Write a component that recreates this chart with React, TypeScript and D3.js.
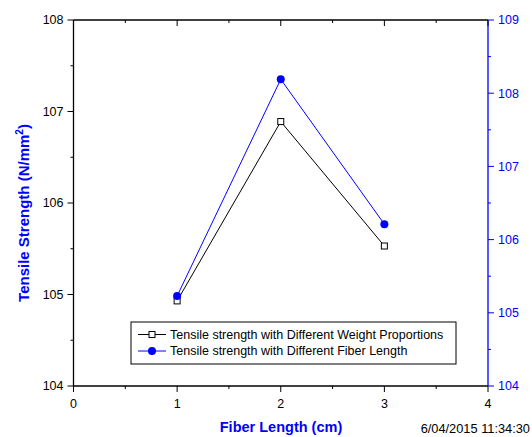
import React, { useEffect, useRef } from 'react';
import * as d3 from 'd3';

// fiber length (cm)
const fiberLength = [1, 2, 3];
// tensile strength with different weight proportions (left axis)
const weightSeries = [104.93, 106.89, 105.53];
// tensile strength with different fiber length (right axis)
const fiberSeries = [105.23, 108.19, 106.21];

const xTicks = [0, 1, 2, 3, 4];
const leftTicks = [104, 105, 106, 107, 108];
const rightTicks = [104, 105, 106, 107, 108, 109];

const legendLabels = [
  'Tensile strength with Different Weight Proportions',
  'Tensile strength with Different Fiber Length',
];

const App = () => {
  const chartRef = useRef<SVGSVGElement>(null);

  useEffect(() => {
    const svg = d3.select(chartRef.current);
    svg.selectAll('*').remove();

    const left = 73.5, right = 488, top = 20, bottom = 386;
    const font = 'Liberation Sans, Arial, sans-serif';
    const blue = '#0000ff';

    const x = d3.scaleLinear().domain([0, 4]).range([left, right]);
    const yL = d3.scaleLinear().domain([104, 108]).range([bottom, top]);
    const yR = d3.scaleLinear().domain([104, 109]).range([bottom, top]);

    const g = svg.append('g');

    // frame lines
    g.append('line').attr('x1', left).attr('x2', right).attr('y1', top).attr('y2', top)
      .attr('stroke', '#000').attr('stroke-width', 1.3);
    g.append('line').attr('x1', left).attr('x2', right).attr('y1', bottom).attr('y2', bottom)
      .attr('stroke', '#000').attr('stroke-width', 1.3);
    g.append('line').attr('x1', left).attr('x2', left).attr('y1', top).attr('y2', bottom)
      .attr('stroke', '#000').attr('stroke-width', 1.3);
    g.append('line').attr('x1', right).attr('x2', right).attr('y1', top).attr('y2', bottom)
      .attr('stroke', blue).attr('stroke-width', 1.3);

    // x ticks (bottom outward, top inward)
    const xMinor = d3.range(0.5, 4, 1);
    xTicks.forEach((t) => {
      g.append('line').attr('x1', x(t)).attr('x2', x(t)).attr('y1', bottom).attr('y2', bottom + 6)
        .attr('stroke', '#000');
      g.append('line').attr('x1', x(t)).attr('x2', x(t)).attr('y1', top).attr('y2', top + 6)
        .attr('stroke', '#000');
      g.append('text').attr('x', x(t)).attr('y', bottom + 22).attr('text-anchor', 'middle')
        .attr('font-family', font).attr('font-size', 12.5).text(t);
    });
    xMinor.forEach((t) => {
      g.append('line').attr('x1', x(t)).attr('x2', x(t)).attr('y1', bottom).attr('y2', bottom + 3)
        .attr('stroke', '#000');
      g.append('line').attr('x1', x(t)).attr('x2', x(t)).attr('y1', top).attr('y2', top + 3)
        .attr('stroke', '#000');
    });

    // left axis
    leftTicks.forEach((t) => {
      g.append('line').attr('x1', left - 6).attr('x2', left).attr('y1', yL(t)).attr('y2', yL(t))
        .attr('stroke', '#000');
      g.append('text').attr('x', left - 10).attr('y', yL(t)).attr('dy', '0.35em')
        .attr('text-anchor', 'end').attr('font-family', font).attr('font-size', 12.5).text(t);
    });
    d3.range(104.5, 108, 1).forEach((t) => {
      g.append('line').attr('x1', left - 3).attr('x2', left).attr('y1', yL(t)).attr('y2', yL(t))
        .attr('stroke', '#000');
    });

    // right axis
    rightTicks.forEach((t) => {
      g.append('line').attr('x1', right).attr('x2', right + 6).attr('y1', yR(t)).attr('y2', yR(t))
        .attr('stroke', blue);
      g.append('text').attr('x', right + 10).attr('y', yR(t)).attr('dy', '0.35em')
        .attr('text-anchor', 'start').attr('font-family', font).attr('font-size', 12.5)
        .attr('fill', blue).text(t);
    });
    d3.range(104.5, 109, 1).forEach((t) => {
      g.append('line').attr('x1', right).attr('x2', right + 3).attr('y1', yR(t)).attr('y2', yR(t))
        .attr('stroke', blue);
    });

    // axis titles
    g.append('text').attr('transform', 'translate(29,213) rotate(-90)')
      .attr('text-anchor', 'middle').attr('font-family', font).attr('font-size', 15)
      .attr('font-weight', 'bold').attr('fill', blue)
      .call((t) => {
        t.append('tspan').text('Tensile Strength (N/mm');
        t.append('tspan').attr('dy', -6).attr('font-size', 10).text('2');
        t.append('tspan').attr('dy', 6).text(')');
      });
    g.append('text').attr('x', 281).attr('y', 432).attr('text-anchor', 'middle')
      .attr('font-family', font).attr('font-size', 14.5).attr('font-weight', 'bold')
      .attr('fill', blue).text('Fiber Length (cm)');
    g.append('text').attr('x', 530).attr('y', 433).attr('text-anchor', 'end')
      .attr('font-family', font).attr('font-size', 12.8).text('6/04/2015 11:34:30');

    // series lines
    const lineL = d3.line<number>().x((d, i) => x(fiberLength[i])).y((d) => yL(d));
    const lineR = d3.line<number>().x((d, i) => x(fiberLength[i])).y((d) => yR(d));
    g.append('path').attr('d', lineL(weightSeries)).attr('fill', 'none').attr('stroke', '#000');
    g.append('path').attr('d', lineR(fiberSeries)).attr('fill', 'none').attr('stroke', blue);

    g.selectAll('.sq').data(weightSeries).enter().append('rect')
      .attr('x', (d, i) => x(fiberLength[i]) - 3).attr('y', (d) => yL(d) - 3)
      .attr('width', 6).attr('height', 6).attr('fill', '#fff').attr('stroke', '#000');
    g.selectAll('.dot').data(fiberSeries).enter().append('circle')
      .attr('cx', (d, i) => x(fiberLength[i])).attr('cy', (d) => yR(d)).attr('r', 4)
      .attr('fill', blue);

    // legend
    const lg = g.append('g');
    lg.append('rect').attr('x', 131).attr('y', 322).attr('width', 325).attr('height', 42)
      .attr('fill', '#fff').attr('stroke', '#000');
    legendLabels.forEach((label, i) => {
      const cy = 334.5 + i * 16.5;
      const col = i === 0 ? '#000' : blue;
      lg.append('line').attr('x1', 138).attr('x2', 166).attr('y1', cy).attr('y2', cy)
        .attr('stroke', col);
      if (i === 0) {
        lg.append('rect').attr('x', 149).attr('y', cy - 3).attr('width', 6).attr('height', 6)
          .attr('fill', '#fff').attr('stroke', '#000');
      } else {
        lg.append('circle').attr('cx', 152).attr('cy', cy).attr('r', 4).attr('fill', blue);
      }
      lg.append('text').attr('x', 170).attr('y', cy).attr('dy', '0.35em')
        .attr('font-family', font).attr('font-size', 12.5).text(label);
    });

    return () => {
      svg.selectAll('*').remove();
    };
  }, []);

  return (
    <svg ref={chartRef} width={532} height={437}
      style={{ position: 'absolute', left: 0, top: 0 }} />
  );
};

export default App;
